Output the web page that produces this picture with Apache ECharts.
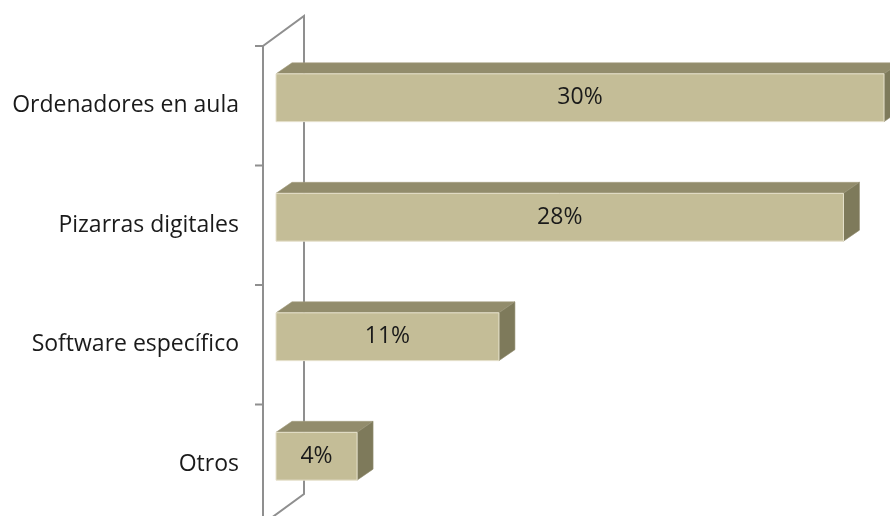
<!DOCTYPE html>
<html>
<head>
<meta charset="utf-8">
<script src="https://cdn.jsdelivr.net/npm/echarts@6/dist/echarts.min.js"></script>
<style>html,body{margin:0;padding:0;background:#fff}#c{width:890px;height:516px}</style>
</head>
<body>
<div id="c"></div>
<script>
const categories = ['Ordenadores en aula', 'Pizarras digitales', 'Software específico', 'Otros'];
const values = [30, 28, 11, 4];
const valueLabels = ['30%', '28%', '11%', '4%'];

const FONT = 'Open Sans';
const DX = 16, DY = -11;        // bar depth offset
const WDX = 41, WDY = -30;      // wall depth offset
const AXIS_OFF = 13;
const WALL = '#8f8f8f';

const chart = echarts.init(document.getElementById('c'), null, {renderer: 'canvas'});

const barData = values.map((v, i) => [v, i]);

chart.setOption({
  animation: false,
  backgroundColor: '#ffffff',
  grid: {left: 276, width: 608, top: 46, height: 478, containLabel: false, outerBoundsMode: 'none'},
  xAxis: {type: 'value', min: 0, max: 30, show: false},
  yAxis: {
    type: 'category', data: categories, inverse: true,
    axisLine: {show: false},
    axisTick: {show: false},
    axisLabel: {margin: 37, fontFamily: FONT, fontSize: 23, color: '#1a1a1a'},
    splitLine: {show: false}
  },
  series: [
    {
      type: 'custom', z: 1, silent: true,
      data: [[0, 0]],
      encode: {x: 0, y: 1},
      renderItem: function (params, api) {
        const cs = params.coordSys;
        const fx = cs.x - AXIS_OFF;
        const top = cs.y, bot = cs.y + cs.height;
        const band = api.size([0, 1])[1];
        const children = [{
          type: 'polyline',
          shape: {points: [[fx, bot], [fx, top], [fx + WDX, top + WDY], [fx + WDX, bot + WDY], [fx, bot]]},
          style: {stroke: WALL, lineWidth: 2, fill: null}
        }];
        for (let k = 0; k <= categories.length; k++) {
          const y = top + k * band;
          children.push({type: 'line', shape: {x1: fx - 8, y1: y, x2: fx, y2: y},
                         style: {stroke: WALL, lineWidth: 2}});
        }
        return {type: 'group', children};
      }
    },
    {
      type: 'custom', z: 2, silent: true,
      data: barData,
      encode: {x: 0, y: 1},
      renderItem: function (params, api) {
        const v = api.value(0), ci = api.value(1);
        const s = api.coord([0, ci]);
        const e = api.coord([v, ci]);
        const band = api.size([0, 1])[1];
        const h = band * 0.40;
        const cy = s[1] - band * 0.067;
        const x0 = s[0], x1 = e[0], y0 = cy - h / 2, y1 = cy + h / 2;
        return {
          type: 'group',
          children: [
            {type: 'polygon', shape: {points: [[x0, y0], [x1, y0], [x1 + DX, y0 + DY], [x0 + DX, y0 + DY]]},
             style: {fill: '#928c6c', stroke: '#a49e80', lineWidth: 0.6}},
            {type: 'polygon', shape: {points: [[x1, y0], [x1 + DX, y0 + DY], [x1 + DX, y1 + DY], [x1, y1]]},
             style: {fill: '#7e7a5b', stroke: '#938f72', lineWidth: 0.6}},
            {type: 'rect', shape: {x: x0, y: y0, width: x1 - x0, height: h},
             style: {fill: '#c4bd97', stroke: '#e6e1cc', lineWidth: 1}},
            {type: 'text', x: (x0 + x1) / 2, y: cy,
             style: {text: valueLabels[params.dataIndex], fontFamily: FONT, fontSize: 23, fill: '#1a1a1a',
                     align: 'center', verticalAlign: 'middle'}}
          ]
        };
      }
    }
  ]
});
</script>
</body>
</html>
